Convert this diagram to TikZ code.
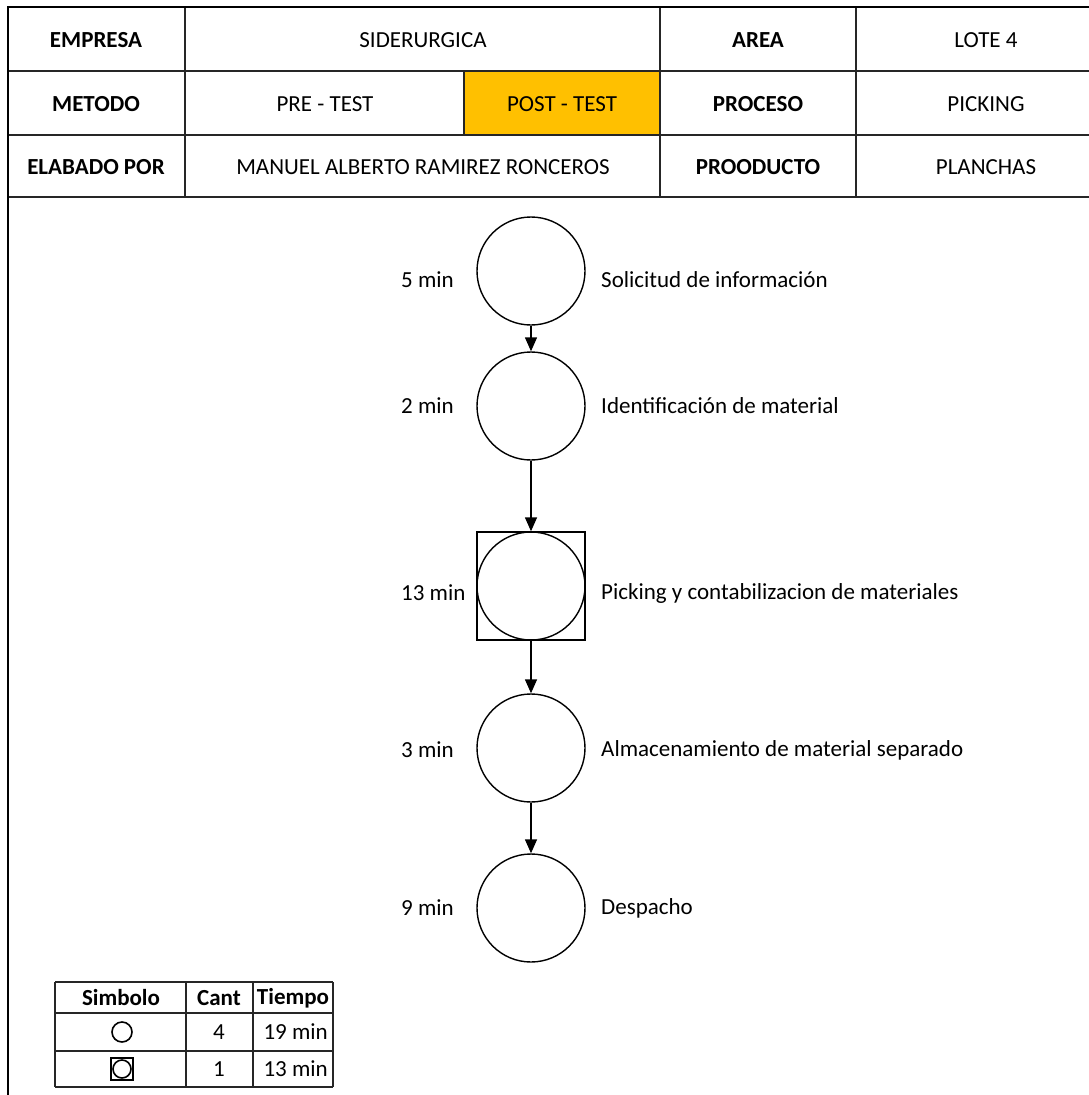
\documentclass[tikz,border=0pt]{standalone}
\usepackage{fontspec}
\setmainfont{Carlito}
\usetikzlibrary{arrows.meta,positioning}
\definecolor{marca}{RGB}{255,192,0}

\begin{document}
\begin{tikzpicture}[x=1pt,y=-1pt,
 grid/.style={draw=black!85,line width=1.7pt},
 frame/.style={draw=black,line width=2.4pt},
 txt/.style={font=\fontsize{23}{27}\selectfont,inner sep=0pt},
 hd/.style={font=\fontsize{23}{27}\selectfont\bfseries,inner sep=0pt},
 act/.style={circle,draw,line width=1.4pt,minimum size=108pt,inner sep=0pt},
 insp/.style={rectangle,draw,line width=1.4pt,minimum size=108pt,inner sep=0pt},
 flow/.style={line width=1.4pt,-{Triangle[length=14pt,width=12pt]}}]
\useasboundingbox (0,0) rectangle (1089,1095);
% cabecera
\fill[marca] (464,71) rectangle (660,135);
\foreach \y in {71,135,197} \draw[grid] (8,\y)--(1089,\y);
\foreach \x in {185,660,856} \draw[grid] (\x,7)--(\x,197);
\draw[grid] (464,71)--(464,135);
\draw[frame] (1089,7)--(8,7)--(8,1095);
\node[hd] (empresa) at (96,40) {EMPRESA};
\node[txt] (empresaval) at (423,40) {SIDERURGICA};
\node[hd] (area) at (758,40) {AREA};
\node[txt] (areaval) at (986,40) {LOTE 4};
\node[hd] (metodo) at (96,104) {METODO};
\node[txt] (pre) at (325,104) {PRE - TEST};
\node[txt] (post) at (562,104) {POST - TEST};
\node[hd] (proceso) at (758,104) {PROCESO};
\node[txt] (procesoval) at (986,104) {PICKING};
\node[hd] (elab) at (96,167) {ELABADO POR};
\node[txt] (elabval) at (423,167) {MANUEL ALBERTO RAMIREZ RONCEROS};
\node[hd] (prod) at (758,167) {PROODUCTO};
\node[txt] (prodval) at (986,167) {PLANCHAS};
% diagrama
\node[act] (c1) at (531,271) {};
\node[act] (c2) at (531,406) {};
\node[insp] (sq) at (531,586) {};
\node[act] (c3) at (531,586) {};
\node[act] (c4) at (531,748) {};
\node[act] (c5) at (531,908) {};
\draw[flow] (c1)--(c2);
\draw[flow] (c2)--(c3);
\draw[flow] (sq)--(c4);
\draw[flow] (c4)--(c5);
\node[txt,anchor=west] (t1) at (401,280) {5 min};
\node[txt,anchor=west] (t2) at (401,406) {2 min};
\node[txt,anchor=west] (t3) at (401,593) {13 min};
\node[txt,anchor=west] (t4) at (401,750) {3 min};
\node[txt,anchor=west] (t5) at (401,908) {9 min};
\node[txt,anchor=west] (d1) at (601,280) {Solicitud de información};
\node[txt,anchor=west] (d2) at (601,406) {Identificación de material};
\node[txt,anchor=west] (d3) at (601,593) {Picking y contabilizacion de materiales};
\node[txt,anchor=west] (d4) at (601,750) {Almacenamiento de material separado};
\node[txt,anchor=west] (d5) at (601,908) {Despacho};
% leyenda
\foreach \y in {982,1013,1051,1087} \draw[grid,line width=1.3pt] (55,\y)--(333,\y);
\foreach \x in {55,186,253,333} \draw[grid,line width=1.3pt] (\x,982)--(\x,1087);
\node[hd] (simb) at (121,998) {Simbolo};
\node[hd] (cant) at (219,998) {Cant};
\node[hd] (tiempo) at (293,998) {Tiempo};
\node[act,minimum size=20pt,line width=1.6pt] (s1) at (122,1032) {};
\node[insp,minimum size=22pt,line width=1.8pt] (s2) at (122,1069) {};
\node[act,minimum size=18pt,line width=1.6pt] (s3) at (122,1069) {};
\node[txt] (n1) at (219,1032) {4};
\node[txt,anchor=east] (m1) at (328,1032) {19 min};
\node[txt] (n2) at (219,1069) {1};
\node[txt,anchor=east] (m2) at (328,1069) {13 min};
\end{tikzpicture}
\end{document}
